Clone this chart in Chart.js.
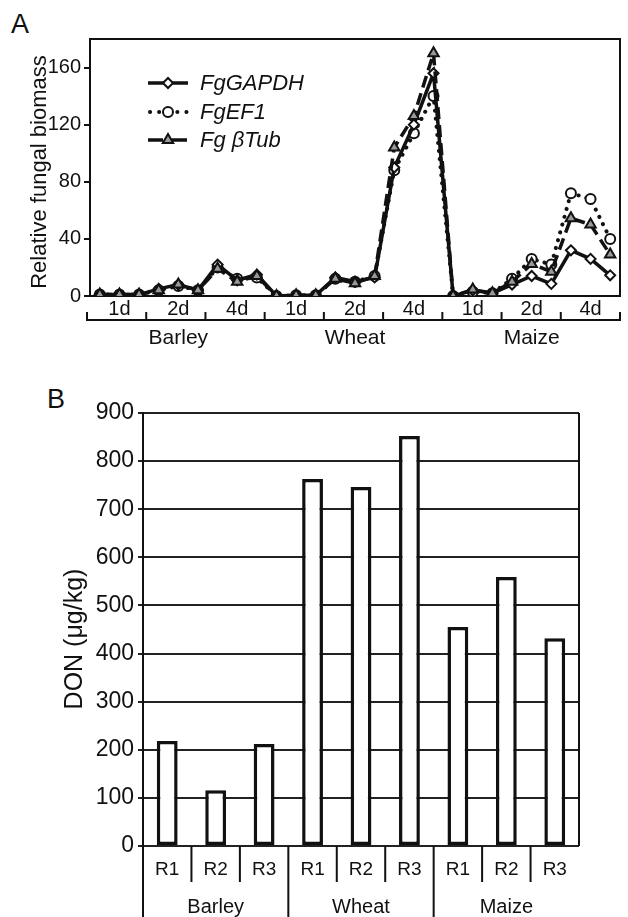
<!DOCTYPE html>
<html>
<head>
<meta charset="utf-8">
<script src="https://cdn.jsdelivr.net/npm/chart.js@4.4.0/dist/chart.umd.min.js"></script>
<style>
body{margin:0;background:#fff;width:628px;height:917px;position:relative;overflow:hidden;font-family:'Liberation Sans',Arial,sans-serif}
#cA{position:absolute;left:0;top:0}
#cB{position:absolute;left:0;top:370px}
.lab{position:absolute;font-size:27px;line-height:1;color:#111}
</style>
</head>
<body>
<div class="lab" style="left:11px;top:11px">A</div>
<div class="lab" style="left:47px;top:386px">B</div>
<canvas id="cA" width="628" height="360"></canvas>
<canvas id="cB" width="628" height="547"></canvas>
<script>
// daten
var crops = ['Barley', 'Wheat', 'Maize']
var days = ['1d', '2d', '4d']
var reps = ['R1', 'R2', 'R3']
var seriesNames = ['FgGAPDH', 'FgEF1', 'Fg βTub']
var yTicksA = [0, 40, 80, 120, 160]

var gapdh = [1, 1, 1, 5, 8, 4, 22, 11, 15,
             0, 0.5, 0.5, 13, 10, 13, 90, 120, 156,
             0, 4, 2, 8, 14, 8.5, 32, 26, 14.5]
var ef1 = [1, 1, 1, 4, 7, 4, 20, 12, 13,
           0, 0.5, 0.5, 12, 10, 14, 88, 114, 140,
           0, 3, 2, 12, 26, 22, 72, 68, 40]
var btub = [1, 1, 1, 4, 8, 4, 19, 10, 14,
            0, 0.5, 0.5, 12, 9, 14, 104, 126, 170,
            0, 4.5, 2, 10, 22.5, 17, 54.5, 50, 29]

var yTicksB = [0, 100, 200, 300, 400, 500, 600, 700, 800, 900]
var don = [218, 116, 212, 763, 746, 852, 455, 559, 432]

var FONT = "'Liberation Sans', Arial, sans-serif"
Chart.defaults.font.family = FONT
Chart.defaults.color = '#111'

// labels fuer x achsen
var pointLabels = []
crops.forEach(c => days.forEach(d => reps.forEach(r => pointLabels.push(c + ' ' + d + ' ' + r))))
var barLabels = []
crops.forEach(c => reps.forEach(r => barLabels.push(c + ' ' + r)))

// senkrechter achsentitel
function drawVTitle(ctx, text, size, x, y) {
  ctx.save()
  ctx.translate(x, y)
  ctx.rotate(-Math.PI / 2)
  ctx.fillStyle = '#111'
  ctx.font = size + 'px ' + FONT
  ctx.textAlign = 'center'
  ctx.textBaseline = 'middle'
  ctx.fillText(text, 0, 0)
  ctx.restore()
}

//Rahmen oben/rechts
const frameA = {
  id: 'frameA',
  afterDraw(chart) {
    const ctx = chart.ctx, a = chart.chartArea
    ctx.save()
    ctx.strokeStyle = '#111'
    ctx.lineWidth = 2
    ctx.beginPath()
    ctx.moveTo(a.left, a.top)
    ctx.lineTo(a.right, a.top)
    ctx.lineTo(a.right, a.bottom)
    ctx.stroke()
    ctx.restore()
    drawVTitle(ctx, 'Relative fungal biomass', 22, 40, 172)
  }
}

// klammern unter der x achse
const bracketA = {
  id: 'bracketA',
  afterDraw(chart) {
    const ctx = chart.ctx, a = chart.chartArea, x = chart.scales.x
    const w = (a.right - a.left) / pointLabels.length
    ctx.save()
    ctx.strokeStyle = '#111'
    ctx.lineWidth = 2
    ctx.beginPath()
    ctx.moveTo(a.left - 3, 320)
    ctx.lineTo(a.right, 320)
    for (let i = 0; i <= pointLabels.length; i += 3) {
      const px = a.left - 3 + i * (w + 3 / pointLabels.length)
      ctx.moveTo(px, 321)
      ctx.lineTo(px, 312)
    }
    ctx.stroke()
    ctx.fillStyle = '#111'
    ctx.textAlign = 'center'
    ctx.textBaseline = 'middle'
    ctx.font = '20px ' + FONT
    for (let g = 0; g < 9; g++) {
      ctx.fillText(days[g % 3], x.getPixelForValue(g * 3 + 1), 309)
    }
    ctx.font = '21px ' + FONT
    crops.forEach((c, k) => ctx.fillText(c, x.getPixelForValue(k * 9 + 4), 338))
    ctx.restore()
  }
}

// legende mit linie + marker
const legendA = {
  id: 'legendA',
  afterDraw(chart) {
    const ctx = chart.ctx
    const rows = [83, 112, 140]
    ctx.save()
    chart.data.datasets.forEach((ds, i) => {
      const y = rows[i]
      ctx.strokeStyle = '#111'
      ctx.lineWidth = ds.borderWidth
      ctx.lineCap = ds.borderCapStyle || 'butt'
      ctx.setLineDash(ds.legendDash || [])
      ctx.beginPath()
      ctx.moveTo(i == 1 ? 150 : 148, y)
      ctx.lineTo(188, y)
      ctx.stroke()
      ctx.setLineDash([])
      ctx.fillStyle = ds.pointBackgroundColor
      ctx.strokeStyle = '#111'
      ctx.lineWidth = ds.pointBorderWidth
      Chart.helpers.drawPoint(ctx, {pointStyle: ds.pointStyle, radius: ds.pointRadius, rotation: 0, borderWidth: ds.pointBorderWidth}, 168, y)
      ctx.fillStyle = '#111'
      ctx.font = 'italic 22px ' + FONT
      ctx.textBaseline = 'middle'
      ctx.textAlign = 'left'
      ctx.fillText(ds.label, 200, y + 1)
    })
    ctx.restore()
  }
}

new Chart(document.getElementById('cA'), {
  type: 'line',
  data: {
    labels: pointLabels,
    datasets: [{
      label: seriesNames[0],
      data: gapdh,
      borderColor: '#111',
      borderWidth: 3.5,
      pointStyle: 'rectRot',
      pointRadius: 5,
      pointBackgroundColor: '#fff',
      pointBorderColor: '#111',
      pointBorderWidth: 2,
      order: 1
    }, {
      label: seriesNames[1],
      data: ef1,
      borderColor: '#111',
      borderWidth: 4,
      borderDash: [0.1, 8],
      legendDash: [0.1, 9],
      borderCapStyle: 'round',
      pointStyle: 'circle',
      pointRadius: 5,
      pointBackgroundColor: '#fff',
      pointBorderColor: '#111',
      pointBorderWidth: 2,
      order: 2
    }, {
      label: seriesNames[2],
      data: btub,
      borderColor: '#111',
      borderWidth: 3.5,
      borderDash: [12, 6],
      legendDash: [15, 9],
      pointStyle: 'triangle',
      pointRadius: 6,
      pointBackgroundColor: '#999',
      pointBorderColor: '#111',
      pointBorderWidth: 2,
      order: 0
    }]
  },
  options: {
    responsive: false,
    animation: false,
    layout: {padding: {left: 28, right: 1, top: 39, bottom: 0}},
    plugins: {legend: {display: false}, tooltip: {enabled: false}},
    scales: {
      x: {
        type: 'category',
        offset: true,
        grid: {display: false},
        ticks: {display: false},
        border: {display: true, color: '#111', width: 2},
        afterFit: s => { s.height = 64 }
      },
      y: {
        min: 0,
        max: 180,
        afterBuildTicks: s => { s.ticks = yTicksA.map(v => ({value: v})) },
        grid: {display: true, drawOnChartArea: false, tickLength: 6, color: '#111', lineWidth: 2},
        border: {display: true, color: '#111', width: 2},
        ticks: {font: {size: 20}, color: '#111', padding: 3},
        afterFit: s => { s.width = 62 }
      }
    }
  },
  plugins: [frameA, bracketA, legendA]
})

// Panel B - achse unten
const axisB = {
  id: 'axisB',
  afterDraw(chart) {
    const ctx = chart.ctx, a = chart.chartArea, x = chart.scales.x
    const w = (a.right - a.left) / barLabels.length
    ctx.save()
    ctx.strokeStyle = '#111'
    ctx.lineWidth = 2
    ctx.beginPath()
    ctx.moveTo(a.right, a.top)
    ctx.lineTo(a.right, a.bottom)
    for (let i = 0; i < barLabels.length; i++) {
      const px = a.left + i * w
      ctx.moveTo(px, a.bottom)
      ctx.lineTo(px, i % 3 == 0 ? chart.height : a.bottom + 36)
    }
    ctx.stroke()
    ctx.fillStyle = '#111'
    ctx.textAlign = 'center'
    ctx.textBaseline = 'middle'
    ctx.font = '19px ' + FONT
    barLabels.forEach((l, i) => ctx.fillText(reps[i % 3], x.getPixelForValue(i), a.bottom + 24))
    ctx.font = '20px ' + FONT
    crops.forEach((c, k) => ctx.fillText(c, x.getPixelForValue(k * 3 + 1), a.bottom + 61))
    ctx.restore()
    drawVTitle(ctx, 'DON (μg/kg)', 25, 75, 269)
  }
}

new Chart(document.getElementById('cB'), {
  type: 'bar',
  data: {
    labels: barLabels,
    datasets: [{
      label: 'DON',
      data: don,
      backgroundColor: '#fff',
      borderColor: '#111',
      borderWidth: 3.5,
      borderSkipped: false,
      barPercentage: 0.43,
      categoryPercentage: 1
    }]
  },
  options: {
    responsive: false,
    animation: false,
    layout: {padding: {left: 62, right: 49, top: 43, bottom: 0}},
    plugins: {legend: {display: false}, tooltip: {enabled: false}},
    scales: {
      x: {
        grid: {display: false},
        ticks: {display: false},
        border: {display: false},
        afterFit: s => { s.height = 71 }
      },
      y: {
        min: 0,
        max: 900,
        afterBuildTicks: s => { s.ticks = yTicksB.map(v => ({value: v})) },
        grid: {display: true, color: '#222', lineWidth: 2, tickLength: 5},
        border: {display: true, color: '#111', width: 2},
        ticks: {font: {size: 23}, color: '#111', padding: 4},
        afterFit: s => { s.width = 81 }
      }
    }
  },
  plugins: [axisB]
})
</script>
</body>
</html>
